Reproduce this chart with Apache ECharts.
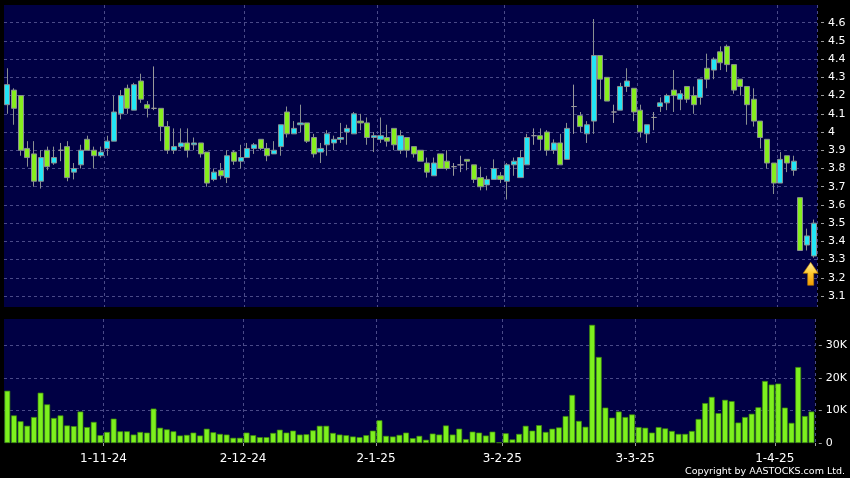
<!DOCTYPE html>
<html>
<head>
<meta charset="utf-8">
<script src="https://cdn.jsdelivr.net/npm/echarts@6/dist/echarts.min.js"></script>
<style>
html,body{margin:0;padding:0;background:#000;}
#c{width:850px;height:478px;}
</style>
</head>
<body>
<div id="c"></div>
<script>
const dates = [
'10-10-24','14-10-24','15-10-24','16-10-24','17-10-24','18-10-24','21-10-24','22-10-24','23-10-24','24-10-24','25-10-24','28-10-24','29-10-24','30-10-24','31-10-24',
'1-11-24','4-11-24','5-11-24','6-11-24','7-11-24','8-11-24','11-11-24','12-11-24','13-11-24','14-11-24','15-11-24','18-11-24','19-11-24','20-11-24','21-11-24','22-11-24','25-11-24','26-11-24','27-11-24','28-11-24','29-11-24',
'2-12-24','3-12-24','4-12-24','5-12-24','6-12-24','9-12-24','10-12-24','11-12-24','12-12-24','13-12-24','16-12-24','17-12-24','18-12-24','19-12-24','20-12-24','23-12-24','24-12-24','27-12-24','30-12-24','31-12-24',
'2-1-25','3-1-25','6-1-25','7-1-25','8-1-25','9-1-25','10-1-25','13-1-25','14-1-25','15-1-25','16-1-25','17-1-25','20-1-25','21-1-25','22-1-25','23-1-25','24-1-25','27-1-25','28-1-25',
'3-2-25','4-2-25','5-2-25','6-2-25','7-2-25','10-2-25','11-2-25','12-2-25','13-2-25','14-2-25','17-2-25','18-2-25','19-2-25','20-2-25','21-2-25','24-2-25','25-2-25','26-2-25','27-2-25','28-2-25',
'3-3-25','4-3-25','5-3-25','6-3-25','7-3-25','10-3-25','11-3-25','12-3-25','13-3-25','14-3-25','17-3-25','18-3-25','19-3-25','20-3-25','21-3-25','24-3-25','25-3-25','26-3-25','27-3-25','28-3-25','31-3-25',
'1-4-25','2-4-25','3-4-25','7-4-25','8-4-25','9-4-25'
];
const openP = [4.15,4.23,4.20,3.91,3.88,3.73,3.90,3.83,3.90,3.92,3.78,3.82,3.96,3.90,3.87,
3.91,3.95,4.10,4.24,4.12,4.28,4.15,4.13,4.13,4.03,3.90,3.92,3.94,3.93,3.94,3.89,3.74,3.79,3.75,3.89,3.84,
3.86,3.91,3.96,3.91,3.88,3.92,4.11,3.99,4.04,4.05,3.97,3.89,3.93,3.94,3.96,4.00,3.99,4.06,4.05,3.97,
3.96,3.97,4.02,3.90,3.97,3.92,3.90,3.83,3.76,3.88,3.84,3.81,3.82,3.85,3.82,3.75,3.71,3.74,3.76,
3.73,3.82,3.75,3.82,3.98,3.98,4.00,3.90,3.94,3.85,4.14,4.09,3.99,4.06,4.42,4.30,4.11,4.12,4.25,4.24,
4.12,3.99,4.08,4.14,4.16,4.23,4.18,4.25,4.20,4.19,4.35,4.34,4.44,4.47,4.37,4.29,4.25,4.18,4.06,3.96,3.83,
3.72,3.87,3.79,3.64,3.38,3.32];
const closeP = [4.26,4.13,3.90,3.86,3.73,3.86,3.81,3.86,3.90,3.75,3.80,3.90,3.90,3.87,3.89,
3.95,4.11,4.20,4.13,4.26,4.18,4.13,4.13,4.03,3.90,3.92,3.94,3.90,3.94,3.88,3.72,3.78,3.76,3.87,3.84,3.86,
3.91,3.93,3.91,3.87,3.90,4.04,3.99,4.02,4.05,3.95,3.88,3.91,3.99,3.96,3.97,4.02,4.10,4.05,3.97,3.98,
3.98,3.95,3.93,3.98,3.90,3.88,3.84,3.78,3.83,3.80,3.80,3.81,3.82,3.84,3.74,3.70,3.74,3.80,3.74,
3.82,3.84,3.86,3.97,3.98,3.96,3.90,3.94,3.82,4.02,4.14,4.03,4.04,4.42,4.29,4.17,4.11,4.25,4.28,4.11,
4.00,4.04,4.08,4.16,4.20,4.20,4.21,4.18,4.15,4.29,4.29,4.40,4.38,4.37,4.23,4.25,4.15,4.06,3.97,3.83,3.72,
3.85,3.83,3.84,3.35,3.43,3.50];
const lowP = [4.10,4.04,3.87,3.81,3.70,3.69,3.79,3.82,3.84,3.73,3.74,3.80,3.90,3.80,3.86,
3.87,3.95,4.07,4.10,4.12,4.16,4.08,4.12,3.95,3.88,3.88,3.91,3.86,3.90,3.86,3.70,3.73,3.74,3.72,3.82,3.80,
3.86,3.88,3.90,3.84,3.88,3.87,3.97,3.99,4.00,3.94,3.86,3.83,3.87,3.90,3.94,3.93,3.99,4.01,3.93,3.89,
3.94,3.92,3.90,3.88,3.86,3.86,3.84,3.75,3.76,3.80,3.79,3.76,3.78,3.79,3.72,3.68,3.68,3.74,3.72,
3.63,3.76,3.75,3.82,3.93,3.90,3.87,3.88,3.82,3.85,3.99,4.00,3.94,3.99,4.18,4.17,4.05,4.12,4.22,4.06,
3.97,3.94,4.01,4.11,4.12,4.11,4.12,4.16,4.10,4.15,4.24,4.29,4.34,4.33,4.21,4.20,4.04,4.03,3.91,3.80,3.66,
3.72,3.78,3.76,3.35,3.35,3.31];
const highP = [4.35,4.24,4.20,3.95,3.95,3.90,3.92,3.92,3.94,3.95,3.83,3.93,3.98,3.92,3.92,
3.98,4.20,4.23,4.26,4.27,4.32,4.17,4.36,4.13,4.06,4.02,4.02,4.02,3.97,3.94,3.89,3.80,3.83,3.90,3.90,3.93,
3.94,3.94,3.96,3.94,3.95,4.04,4.14,4.06,4.15,4.05,3.99,3.94,4.01,3.98,4.05,4.04,4.11,4.10,4.08,4.00,
4.08,4.04,4.02,4.01,3.97,3.92,3.90,3.86,3.86,3.88,3.90,3.83,3.87,3.85,3.82,3.81,3.76,3.85,3.78,
3.83,3.86,3.90,3.99,4.02,4.02,4.01,3.96,3.99,4.05,4.26,4.11,4.06,4.62,4.42,4.30,4.15,4.27,4.35,4.24,
4.15,4.04,4.11,4.19,4.21,4.34,4.23,4.25,4.25,4.29,4.43,4.41,4.47,4.48,4.37,4.29,4.25,4.24,4.06,3.96,3.83,
3.89,3.87,3.87,3.64,3.47,3.52];
const volumeK = [16.1,8.5,6.7,5.3,8.0,15.5,11.9,7.7,8.5,5.4,5.2,9.7,4.9,6.5,2.4,
3.4,7.5,3.6,3.6,2.6,3.4,3.2,10.6,4.7,4.2,3.6,2.3,2.5,3.2,2.3,4.4,3.3,2.8,2.6,1.6,1.6,
3.2,2.4,1.8,1.8,3.1,4.1,3.2,3.8,2.6,2.7,3.9,5.3,5.3,3.1,2.6,2.4,2.0,1.8,2.4,3.8,
7.0,2.2,2.0,2.5,3.2,1.5,2.2,1.0,2.9,2.6,5.4,2.6,4.4,1.2,3.5,3.2,2.3,3.5,0.2,
3.0,1.1,2.8,5.3,3.8,5.5,3.4,4.4,4.8,8.3,14.8,6.8,5.0,36.4,26.5,10.9,7.8,9.7,8.0,8.8,
4.9,4.7,3.2,4.9,4.5,3.7,2.8,2.8,3.7,7.4,12.3,14.2,9.2,13.3,12.9,6.3,8.0,9.0,11.0,19.1,18.0,
18.3,10.9,6.2,23.4,8.3,9.7];
const priceRange = [3.04, 4.697];
const volumeMaxK = 38.2;
const copyrightText = 'Copyright by AASTOCKS.com Ltd.';

const candleData = dates.map((d, i) => [openP[i], closeP[i], lowP[i], highP[i]]);
const volumeData = volumeK.map(v => v * 1000);
const monthStart = dates.map((d, i) => i > 0 && d.split('-')[1] !== dates[i - 1].split('-')[1]);
const showAt = (i) => monthStart[i];

const gridLine = { show: true, lineStyle: { color: '#4a4a88', type: [3, 3], width: 1 } };
const FONT = 'DejaVu Sans';

const chart = echarts.init(document.getElementById('c'), null, { renderer: 'canvas' });
chart.setOption({
  animation: false,
  backgroundColor: '#000000',
  grid: [
    { left: 4, right: 33, top: 5, height: 302, show: true, backgroundColor: '#000044', borderWidth: 0 },
    { left: 4, right: 33, top: 319, height: 124, show: true, backgroundColor: '#000044', borderWidth: 0 }
  ],
  xAxis: [
    { type: 'category', gridIndex: 0, data: dates, boundaryGap: true,
      axisLine: { show: false }, axisTick: { show: false, interval: showAt }, axisLabel: { show: false, interval: showAt },
      splitLine: Object.assign({ interval: showAt }, gridLine) },
    { type: 'category', gridIndex: 1, data: dates, boundaryGap: true, offset: 3,
      axisLine: { show: false },
      axisTick: { show: true, interval: showAt, alignWithLabel: false, length: 3, lineStyle: { color: '#9a9a9a' } },
      axisLabel: { show: true, interval: showAt, color: '#ffffff', fontFamily: FONT, fontSize: 12, margin: 7, padding: [0, 7, 0, 0] },
      splitLine: Object.assign({ interval: showAt }, gridLine) }
  ],
  yAxis: [
    { type: 'value', gridIndex: 0, position: 'right', min: priceRange[0], max: priceRange[1],
      minInterval: 0.1, maxInterval: 0.1, offset: 4, scale: true,
      axisLine: { show: false },
      axisTick: { show: true, length: 3, lineStyle: { color: '#9a9a9a' } },
      axisLabel: { color: '#ffffff', fontFamily: FONT, fontSize: 11, margin: 7, showMinLabel: false, showMaxLabel: false },
      splitLine: Object.assign({ showMinLine: false, showMaxLine: false }, gridLine) },
    { type: 'value', gridIndex: 1, position: 'right', min: 0, max: volumeMaxK * 1000,
      minInterval: 10000, maxInterval: 10000, offset: 4,
      axisLine: { show: false },
      axisTick: { show: true, length: 3, lineStyle: { color: '#9a9a9a' } },
      axisLabel: { color: '#ffffff', fontFamily: FONT, fontSize: 11, margin: 7, showMaxLabel: false,
        formatter: v => v === 0 ? '0' : (v / 1000) + 'K' },
      splitLine: Object.assign({ showMinLine: false, showMaxLine: false }, gridLine) }
  ],
  series: [
    { type: 'candlestick', xAxisIndex: 0, yAxisIndex: 0, data: candleData, barWidth: 5.6,
      itemStyle: { color: '#22e6f6', color0: '#86ee1e', borderColor: '#8a9090', borderColor0: '#8a9090', borderColorDoji: '#9a9a9a', borderWidth: 1 },
      markPoint: {
        silent: true,
        label: { show: false },
        data: [{
          coord: [dates[dates.length - 1], lowP[lowP.length - 1]],
          symbol: 'path://M7.5,0 L15,11 L10.5,11 L10.5,23 L4.5,23 L4.5,11 L0,11 Z',
          symbolSize: [15, 23], symbolOffset: [-3, 16], symbolKeepAspect: false,
          itemStyle: { color: { type: 'linear', x: 0, y: 0, x2: 0, y2: 1, colorStops: [
            { offset: 0, color: '#fff2a8' }, { offset: 0.45, color: '#ffcc33' }, { offset: 1, color: '#f29a00' } ] },
            borderColor: '#b87a00', borderWidth: 0.6 }
        }]
      }
    },
    { type: 'bar', xAxisIndex: 1, yAxisIndex: 1, data: volumeData, barWidth: 5.8,
      itemStyle: { color: '#7df01e', borderColor: '#3d8a0c', borderWidth: 0.7 } }
  ],
  graphic: [
    { type: 'text', right: 5, top: 467, style: { text: copyrightText, fill: '#ffffff', font: '9.5px "DejaVu Sans"' } }
  ]
});
</script>
</body>
</html>
